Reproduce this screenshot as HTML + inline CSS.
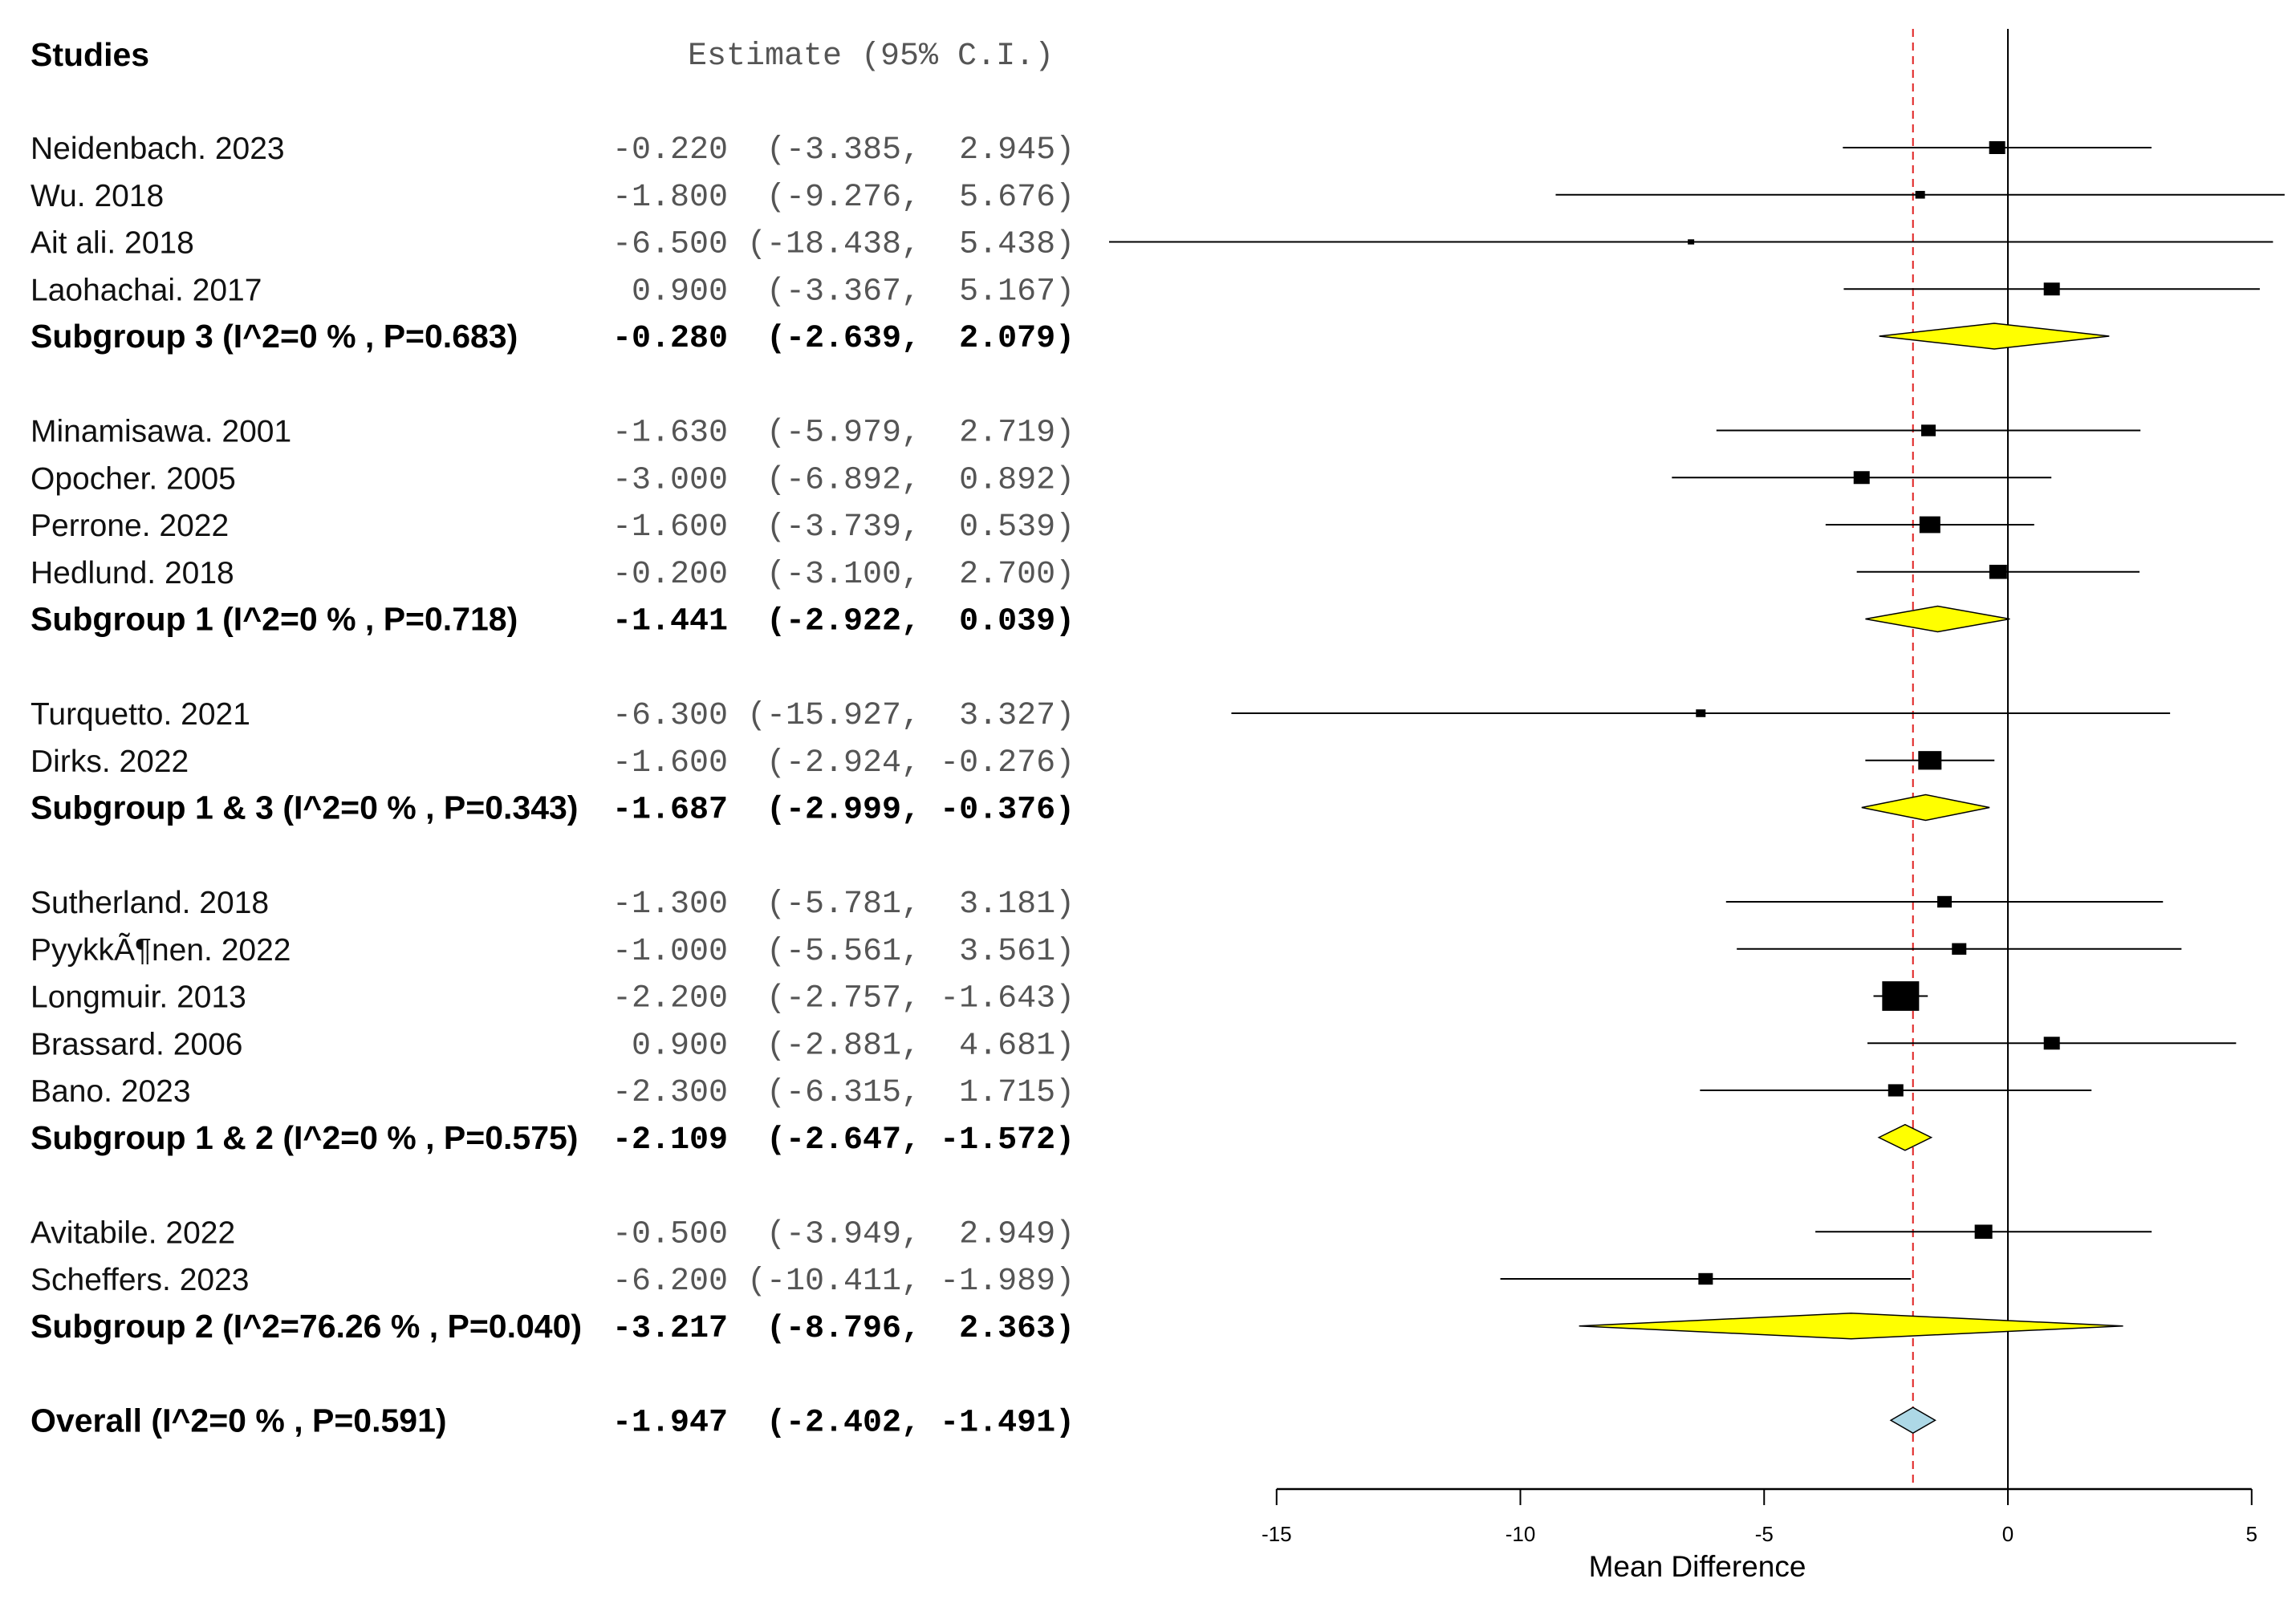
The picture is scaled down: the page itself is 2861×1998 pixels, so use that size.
<!DOCTYPE html>
<html><head><meta charset="utf-8"><style>
html,body{margin:0;padding:0;background:#fff;}
svg{display:block;}
.nm{font-family:"Liberation Sans",sans-serif;font-size:39px;fill:#111;}
.nm.b{font-weight:bold;fill:#000;font-size:41px;}
.mono{font-family:"Liberation Mono",monospace;font-size:40px;fill:#555;white-space:pre;}
.mono.b{font-weight:bold;fill:#000;}
</style></head><body>
<svg id="chart" width="2861" height="1998" viewBox="0 0 2861 1998" xmlns="http://www.w3.org/2000/svg"></svg>
<script>
const labels = ["Neidenbach. 2023","Wu. 2018","Ait ali. 2018","Laohachai. 2017","Subgroup 3 (I^2=0 % , P=0.683)",
"Minamisawa. 2001","Opocher. 2005","Perrone. 2022","Hedlund. 2018","Subgroup 1 (I^2=0 % , P=0.718)",
"Turquetto. 2021","Dirks. 2022","Subgroup 1 & 3 (I^2=0 % , P=0.343)",
"Sutherland. 2018","PyykkÃ¶nen. 2022","Longmuir. 2013","Brassard. 2006","Bano. 2023","Subgroup 1 & 2 (I^2=0 % , P=0.575)",
"Avitabile. 2022","Scheffers. 2023","Subgroup 2 (I^2=76.26 % , P=0.040)",
"Overall (I^2=0 % , P=0.591)"];
const kinds = ["s","s","s","s","g","s","s","s","s","g","s","s","g","s","s","s","s","s","g","s","s","g","o"];
const estimates = [-0.220,-1.800,-6.500,0.900,-0.280,-1.630,-3.000,-1.600,-0.200,-1.441,-6.300,-1.600,-1.687,-1.300,-1.000,-2.200,0.900,-2.300,-2.109,-0.500,-6.200,-3.217,-1.947];
const lowers = [-3.385,-9.276,-18.438,-3.367,-2.639,-5.979,-6.892,-3.739,-3.100,-2.922,-15.927,-2.924,-2.999,-5.781,-5.561,-2.757,-2.881,-6.315,-2.647,-3.949,-10.411,-8.796,-2.402];
const uppers = [2.945,5.676,5.438,5.167,2.079,2.719,0.892,0.539,2.700,0.039,3.327,-0.276,-0.376,3.181,3.561,-1.643,4.681,1.715,-1.572,2.949,-1.989,2.363,-1.491];
const rowSlots = [0,1,2,3,4, 6,7,8,9,10, 12,13,14, 16,17,18,19,20,21, 23,24,25, 27];
const boxSizes = [20,12,8,20,0,18,20,26,22,0,12,29,0,18,18,46,20,19,0,22,18,0,0];
const ticks = [-15,-10,-5,0,5];
const overallEst = -1.947;

const NS="http://www.w3.org/2000/svg";
const svg=document.getElementById('chart');
function el(t,a,p){const e=document.createElementNS(NS,t);for(const k in a)e.setAttribute(k,a[k]);(p||svg).appendChild(e);return e;}
const x0=2502, ppu=60.75;
const xs=v=>x0+v*ppu;
const ys=s=>184+s*58.75;
const axisY=1856;

let t=el('text',{x:38,y:82,class:'nm b'});t.textContent='Studies';


t=el('text',{x:857,y:80,class:'mono'});t.textContent='Estimate (95% C.I.)';



let l=el('line',{x1:xs(0),x2:xs(0),y1:36,y2:axisY,stroke:'#000','stroke-width':2});


l=el('line',{x1:xs(overallEst),x2:xs(overallEst),y1:36,y2:axisY,stroke:'#e02020','stroke-width':2,'stroke-dasharray':'10,7'});



const f=v=>v.toFixed(3);
labels.forEach((lab,i)=>{
  const y=ys(rowSlots[i]);
  const bold=kinds[i]!=='s';
  const tx=el('text',{x:38,y:y+14,class:'nm'+(bold?' b':'')});tx.textContent=lab;
  
  
  const str=f(estimates[i]).padStart(6)+' '+('('+f(lowers[i])).padStart(8)+','+f(uppers[i]).padStart(7)+')';
  const tm=el('text',{x:763,y:y+13,class:'mono'+(bold?' b':''),'xml:space':'preserve'});tm.textContent=str;
  
  
  if(kinds[i]==='s'){
    const ln=el('line',{x1:Math.max(xs(lowers[i]),1382),x2:Math.min(xs(uppers[i]),2858),y1:y,y2:y,stroke:'#000','stroke-width':2});
    
    
    const w=boxSizes[i],h=w*0.8;
    const r=el('rect',{x:xs(estimates[i])-w/2,y:y-h/2,width:w,height:h,fill:'#000'});
    
    
  } else {
    const hh=16;
    const p=el('polygon',{points:`${xs(lowers[i])},${y} ${xs(estimates[i])},${y-hh} ${xs(uppers[i])},${y} ${xs(estimates[i])},${y+hh}`,
      fill:kinds[i]==='o'?'#add8e6':'#ffff00',stroke:'#000','stroke-width':1.5});
    
    
  }
});

l=el('line',{x1:xs(ticks[0]),x2:xs(ticks[ticks.length-1]),y1:axisY,y2:axisY,stroke:'#000','stroke-width':2.5});


ticks.forEach(v=>{
  const tk=el('line',{x1:xs(v),x2:xs(v),y1:axisY,y2:axisY+20,stroke:'#000','stroke-width':2});
  
  
  const tl=el('text',{x:xs(v),y:1921,'text-anchor':'middle','font-family':'Liberation Sans, sans-serif','font-size':26,fill:'#000'});
  tl.textContent=String(v);
  
  
});
t=el('text',{x:2115,y:1965,'text-anchor':'middle','font-family':'Liberation Sans, sans-serif','font-size':37,fill:'#000'});
t.textContent='Mean Difference';


</script>
</body></html>
